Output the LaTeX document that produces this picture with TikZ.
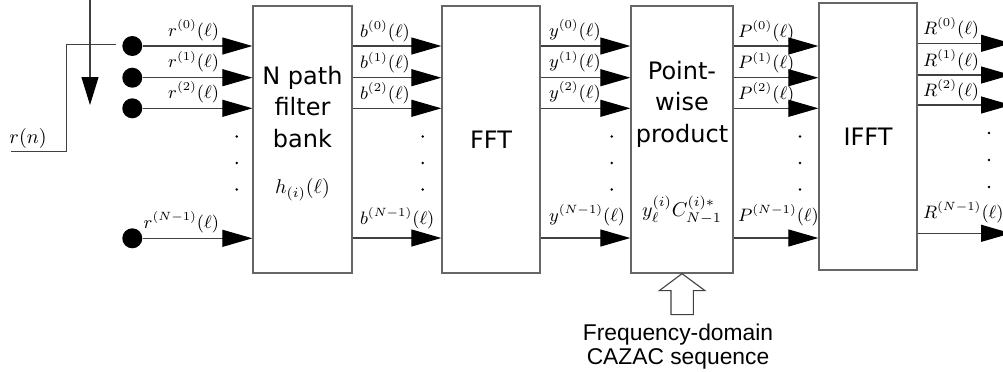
\documentclass[tikz,border=0pt]{standalone}
\usepackage{fontspec}
\newfontfamily\blockfont{DejaVu Sans}
\newfontfamily\notefont{Liberation Sans}
\usetikzlibrary{arrows.meta,calc}
\begin{document}
\begin{tikzpicture}[x=0.5pt,y=-0.5pt,
  blk/.style={draw=black!60, line width=0.65pt, inner sep=0pt, minimum height=133.5pt},
  wire/.style={draw=black!75, line width=0.55pt},
  sig/.style={wire, -{Triangle[length=15pt,width=8.5pt,color=black]}},
  lab/.style={inner sep=0pt, font=\small},
  port/.style={circle, fill=black, inner sep=0pt, minimum size=10pt},
  vdot/.style={circle, fill=black, inner sep=0pt, minimum size=1.4pt},
  txt/.style={font=\blockfont\fontsize{12}{15.75}\selectfont, align=center, inner sep=0pt},
  note/.style={font=\notefont\fontsize{11.4}{12}\selectfont, align=center, inner sep=0pt},
  hollow/.style={draw=black!75, line width=0.55pt, fill=white, line join=miter}
]
\useasboundingbox (0,0) rectangle (1003,371);

% processing blocks
\node[blk, minimum width=49.5pt] (bank) at (302.5,139.5) {};
\node[blk, minimum width=49pt]   (fft)  at (491,139.5) {};
\node[blk, minimum width=51pt]   (prod) at (682,139.5) {};
\node[blk, minimum width=49pt]   (ifft) at (868,136.5) {};

% block captions
\node[txt] (banktxt) at (302.5,107) {N path\\filter\\bank};
\node (bankeq) at (302.5,190) {$h_{(i)}(\ell)$};
\node[txt] (ffttxt) at (fft.center) {FFT};
\node[txt] (prodtxt) at (682,104) {Point-\\wise\\product};
\node (prodeq) at (682,210) {$y_\ell^{(i)}C_{N-1}^{(i)*}$};
\node[txt] (iffttxt) at (ifft.center) {IFFT};

% row levels
\coordinate (r0) at (0,46);
\coordinate (r1) at (0,77.7);
\coordinate (r2) at (0,108.3);
\coordinate (rN) at (0,238);
\coordinate (q0) at (0,43.3);
\coordinate (q1) at (0,75);
\coordinate (q2) at (0,105);
\coordinate (qN) at (0,233.3);

% input ports of the commutator
\node[port] (c0) at (132.3,46) {};
\node[port] (c1) at (132.3,77.7) {};
\node[port] (c2) at (132.3,108.3) {};
\node[port] (cN) at (132.3,238.3) {};

% input signal and commutator switch
\node[lab, font=\normalsize, anchor=south] (rn) at (28,148.5) {$r(n)$};
\coordinate (rin) at (11,151.7);
\coordinate (rbend) at (66.7,151.7);
\coordinate (rtop) at (66.7,44.3);
\coordinate (rend) at (116,44.3);
\draw[wire] (rin) -- (rbend) -- (rtop) -- (rend);
\coordinate (swtop) at (90,-2);
\coordinate (swend) at (90,105);
\draw[wire, -{Triangle[length=14pt,width=8.5pt,color=black]}] (swtop) -- (swend);

% polyphase branches r -> filter bank
\foreach \c/\t/\g in {c0/{r^{(0)}(\ell)}/5, c1/{r^{(1)}(\ell)}/5, c2/{r^{(2)}(\ell)}/5, cN/{r^{(N-1)}(\ell)}/5}{
  \draw[sig] (\c) -- (\c -| bank.west);
  \node[lab, anchor=south east] at ($(\c -| bank.west)+(-33,-\g)$) {$\t$};
}

% filter bank -> FFT
\foreach \r/\t/\g in {r0/{b^{(0)}(\ell)}/4, r1/{b^{(1)}(\ell)}/4, r2/{b^{(2)}(\ell)}/4, rN/{b^{(N-1)}(\ell)}/9}{
  \draw[sig] (bank.east |- \r) -- (fft.west |- \r);
  \node[lab, anchor=south west] at ($(bank.east |- \r)+(7,-\g)$) {$\t$};
}

% FFT -> point-wise product
\foreach \r/\t/\g in {r0/{y^{(0)}(\ell)}/5, r1/{y^{(1)}(\ell)}/5, r2/{y^{(2)}(\ell)}/5, rN/{y^{(N-1)}(\ell)}/12}{
  \draw[sig] (fft.east |- \r) -- (prod.west |- \r);
  \node[lab, anchor=south west] at ($(fft.east |- \r)+(8,-\g)$) {$\t$};
}

% point-wise product -> IFFT
\foreach \r/\t/\g in {r0/{P^{(0)}(\ell)}/4, r1/{P^{(1)}(\ell)}/4, r2/{P^{(2)}(\ell)}/4, rN/{P^{(N-1)}(\ell)}/12}{
  \draw[sig] (prod.east |- \r) -- (ifft.west |- \r);
  \node[lab, anchor=south west] at ($(prod.east |- \r)+(4,-\g)$) {$\t$};
}

% IFFT outputs
\foreach \r/\t/\g in {q0/{R^{(0)}(\ell)}/4, q1/{R^{(1)}(\ell)}/4, q2/{R^{(2)}(\ell)}/4, qN/{R^{(N-1)}(\ell)}/10}{
  \coordinate (out\r) at (1011, 0 |- \r);
  \draw[sig] (ifft.east |- \r) -- (out\r);
  \node[lab, anchor=south west] at ($(ifft.east |- \r)+(5,-\g)$) {$\t$};
}

% continuation dots
\foreach \x in {236.7, 422.7, 611.7, 800}{
  \foreach \y in {136.5, 163, 189.5}{
    \node[vdot] at (\x,\y) {};
  }
}
\foreach \y in {133, 160, 187}{
  \node[vdot] at (989,\y) {};
}

% reference sequence input
\node[note] (cazac) at (678,347) {Frequency-domain\\CAZAC sequence};
\draw[hollow] (prod.south) -- ++(23,17) -- ++(-11.7,0) -- ++(0,24) -- ++(-22.3,0)
  -- ++(0,-24) -- ++(-11.7,0) -- cycle;
\end{tikzpicture}
\end{document}
